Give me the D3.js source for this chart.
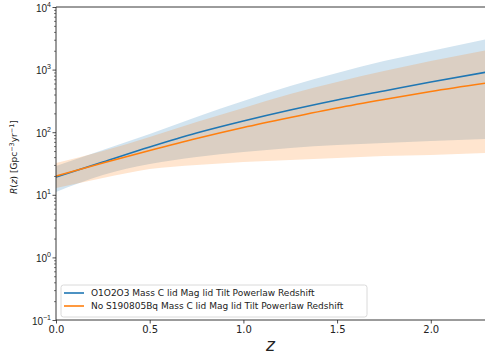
<!DOCTYPE html>
<html><head><meta charset="utf-8">
<script src="https://cdn.jsdelivr.net/npm/d3@7"></script>
<style>
body{margin:0;background:#fff;}
svg{display:block;font-family:"DejaVu Sans",sans-serif;}
</style></head>
<body><svg id="c" width="485" height="355"></svg>
<script>
const zGrid = [0, 0.25, 0.5, 0.75, 1.0, 1.25, 1.5, 1.75, 2.0, 2.3];
const blueMedian = [19.2, 33.4, 58, 97, 151, 226, 327, 455, 634, 916];
const blueLower  = [11.1, 20.7, 31.0, 40.2, 48.3, 56.0, 62.5, 67.2, 72.3, 77.9];
const blueUpper  = [28.8, 52, 93.6, 175, 315, 547, 883, 1372, 1983, 3083];
const orangeMedian = [20.0, 32.2, 51.0, 79.3, 118.9, 171.7, 243.5, 333, 447, 611];
const orangeLower  = [12.8, 18.5, 25.8, 29.9, 33.4, 35.9, 38.7, 41.7, 43.2, 46.5];
const orangeUpper  = [32.2, 50.1, 83.8, 146, 244, 407, 634, 950, 1372, 2056];
const seriesNames = ["O1O2O3 Mass C lid Mag lid Tilt Powerlaw Redshift",
                     "No S190805Bq Mass C lid Mag lid Tilt Powerlaw Redshift"];
const xTicks = [0.0, 0.5, 1.0, 1.5, 2.0];
const yTickExps = [-1, 0, 1, 2, 3, 4];

const svg = d3.select("#c");
const L = 56, R = 487, T = 7, B = 320;
const x = d3.scaleLinear().domain([0, 2.3]).range([L, R]);
const y = d3.scaleLog().domain([0.1, 1e4]).range([B, T]);

const blue = "#1f77b4", orange = "#ff7f0e";
const series = [
  {c: blue, m: blueMedian, lo: blueLower, hi: blueUpper, name: seriesNames[0]},
  {c: orange, m: orangeMedian, lo: orangeLower, hi: orangeUpper, name: seriesNames[1]}
];
const g = svg.append("g");
g.append("clipPath").attr("id","clip").append("rect").attr("x",L).attr("y",T).attr("width",R-L).attr("height",B-T);
const plot = g.append("g").attr("clip-path","url(#clip)");
const curve = d3.curveMonotoneX;
series.forEach(s => {
  const area = d3.area().x((d,i)=>x(zGrid[i])).y0((d,i)=>y(s.lo[i])).y1((d,i)=>y(s.hi[i])).curve(curve);
  plot.append("path").attr("d", area(zGrid)).attr("fill", s.c).attr("fill-opacity", 0.2);
});
series.forEach(s => {
  const line = d3.line().x((d,i)=>x(zGrid[i])).y((d,i)=>y(s.m[i])).curve(curve);
  plot.append("path").attr("d", line(zGrid)).attr("fill","none").attr("stroke", s.c).attr("stroke-width", 1.6);
});

// axes
const xAxis = d3.axisBottom(x).tickValues(xTicks).tickSize(3.5).tickPadding(2).tickFormat(d3.format(".1f"));
const gx = svg.append("g").attr("transform",`translate(0,${B})`).call(xAxis);
gx.select(".domain").remove();
gx.selectAll("text").attr("font-size", 10).attr("fill","#222").attr("font-family","DejaVu Sans");
gx.selectAll("line").attr("stroke","#222").attr("stroke-width",0.8);

const minors = [];
for (let e = -1; e < 4; e++) for (let k = 2; k <= 9; k++) minors.push(k * Math.pow(10, e));
const gym = svg.append("g").attr("transform",`translate(${L},0)`).call(d3.axisLeft(y).tickValues(minors).tickSize(2).tickFormat(""));
gym.select(".domain").remove();
gym.selectAll("line").attr("stroke","#222").attr("stroke-width",0.6);

const gy = svg.append("g").attr("transform",`translate(${L},0)`)
  .call(d3.axisLeft(y).tickValues(yTickExps.map(e=>Math.pow(10,e))).tickSize(3.5).tickPadding(3).tickFormat(""));
gy.select(".domain").remove();
gy.selectAll("line").attr("stroke","#222").attr("stroke-width",0.8);
gy.selectAll(".tick").each(function(d){
  const e = Math.round(Math.log10(d));
  const t = d3.select(this).append("text").attr("x",-5).attr("y",4).attr("text-anchor","end")
    .attr("fill","#222").attr("font-size",10);
  t.append("tspan").text("10");
  t.append("tspan").attr("dy",-5).attr("font-size",7).text(e < 0 ? "\u2212" + Math.abs(e) : String(e));
});

// spines
svg.append("line").attr("x1",L).attr("x2",L).attr("y1",T).attr("y2",B).attr("stroke","#222").attr("stroke-width",0.9);
svg.append("line").attr("x1",L).attr("x2",R).attr("y1",B).attr("y2",B).attr("stroke","#222").attr("stroke-width",0.9);
svg.append("line").attr("x1",L).attr("x2",R).attr("y1",T).attr("y2",T).attr("stroke","#222").attr("stroke-width",0.9);

// labels
svg.append("text").attr("x",(L+R)/2 - 1).attr("y",351).attr("text-anchor","middle")
  .attr("font-size",17).attr("font-style","italic").attr("fill","#222").text("z");
const yl = svg.append("text").attr("transform","translate(17,157) rotate(-90)").attr("text-anchor","middle")
  .attr("font-size",9).attr("fill","#222");
yl.append("tspan").attr("font-style","italic").text("R");
yl.append("tspan").text("(");
yl.append("tspan").attr("font-style","italic").text("z");
yl.append("tspan").text(") [Gpc");
yl.append("tspan").attr("dy",-3.5).attr("font-size",6.5).text("\u22123");
yl.append("tspan").attr("dy",3.5).text("yr");
yl.append("tspan").attr("dy",-3.5).attr("font-size",6.5).text("\u22121");
yl.append("tspan").attr("dy",3.5).text("]");

// legend
const lg = svg.append("g");
lg.append("rect").attr("x",61).attr("y",285).attr("width",306).attr("height",32).attr("rx",2.5)
  .attr("fill","white").attr("fill-opacity",0.8).attr("stroke","#d0d0d0").attr("stroke-width",0.8);
series.forEach((s,i)=>{
  const yy = 293 + i*13;
  lg.append("line").attr("x1",64).attr("x2",84).attr("y1",yy).attr("y2",yy).attr("stroke",s.c).attr("stroke-width",1.6);
  lg.append("text").attr("x",91).attr("y",yy+3.3).attr("font-size",9).attr("fill","#222").text(s.name);
});
</script></body></html>
